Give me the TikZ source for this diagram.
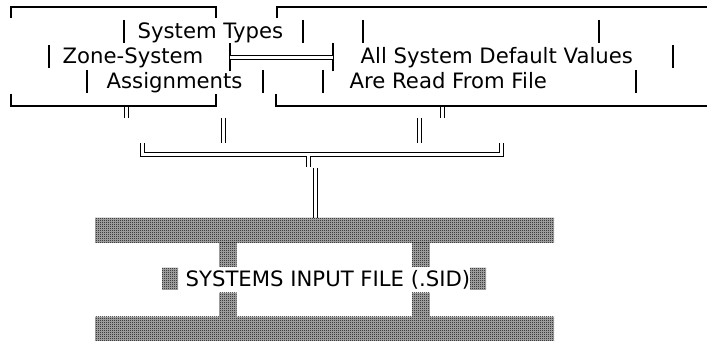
\documentclass[tikz,border=0pt]{standalone}
\usepackage{fontspec}
\setmainfont{DejaVu Sans}
\usepackage{xcolor}
\definecolor{inkblack}{RGB}{0, 0, 0}
\usepackage{tikz}
\usetikzlibrary{patterns}

% fine checkerboard, one device pixel per cell
\pgfdeclarepatternformonly{checker}{\pgfpointorigin}{\pgfqpoint{1.5pt}{1.5pt}}{\pgfqpoint{1.5pt}{1.5pt}}{%
  \pgfpathrectangle{\pgfpointorigin}{\pgfqpoint{0.75pt}{0.75pt}}%
  \pgfpathrectangle{\pgfqpoint{0.75pt}{0.75pt}}{\pgfqpoint{0.75pt}{0.75pt}}%
  \pgfusepath{fill}}

\begin{document}
\begin{tikzpicture}[x=0.75pt, y=-0.75pt, line width=1pt, inkblack,
    txt/.style={anchor=base west, inner sep=0pt, font=\fontsize{15.9}{18}\selectfont},
    rail/.style={double, double distance=2.25pt, line width=0.75pt},
    hatch/.style={fill=inkblack!30, postaction={pattern=checker, pattern color=inkblack}}]
    \useasboundingbox (0,0) rectangle (707,341);

    % left box
    \draw (11,18) |- (216,7) -- (216,18);
    \draw (11,94) |- (216,106) -- (216,94);
    \node[txt] (types) at (137,39) {System Types};
    \node[txt] (zone) at (62,64) {Zone-System};
    \node[txt] (assign) at (106,89) {Assignments};
    \foreach \x/\y in {124/20, 303/20, 49/45, 87/70, 263/70}
        \draw (\x,\y) -- ++(0,23);

    % right box
    \draw (277,18) |- (707,7);
    \draw (276,94) |- (707,106);
    \node[txt] (defaults) at (360,64) {All System Default Values};
    \node[txt] (readfile) at (349,89) {Are Read From File};
    \foreach \x/\y in {363/20, 599/20, 673/45, 323/70, 636/70}
        \draw (\x,\y) -- ++(0,23);

    % link between the boxes
    \coordinate (linkL) at (230,57.5);
    \coordinate (linkR) at (333,57.5);
    \draw ([yshift=-10.5]linkL) -- ([yshift=10.5]linkL);
    \draw ([yshift=-10.5]linkR) -- ([yshift=10.5]linkR);
    \draw[rail] (linkL) -- (linkR);

    % drops into the collector
    \draw[rail] (126,107) -- (126,118);
    \draw[rail] (223,118) -- (223,143);
    \draw[rail] (442.5,107) -- (442.5,118);
    \draw[rail] (419,118) -- (419,143);

    \coordinate (busL) at (142,143);
    \coordinate (busR) at (501,143);
    \coordinate (tee) at (308,156.3);
    \draw[rail] (busL) |- (501,155) -- (busR);
    \draw[rail] (tee) -- ++(0,10.7);
    \draw[rail] (315,168) -- (315,218);

    % the .SID file block
    \fill[hatch] (95,218) rectangle (554,243);
    \fill[hatch] (95,317) rectangle (554,341);
    \foreach \x in {219,412} {
        \fill[hatch] (\x,243) rectangle ++(17.5,24);
        \fill[hatch] (\x,293) rectangle ++(17.5,24);
    }
    \fill[hatch] (162,268) rectangle (178,290);
    \fill[hatch] (470,268) rectangle (486,290);
    \node[txt] (sid) at (185,287) {SYSTEMS INPUT FILE (.SID)};
\end{tikzpicture}
\end{document}
